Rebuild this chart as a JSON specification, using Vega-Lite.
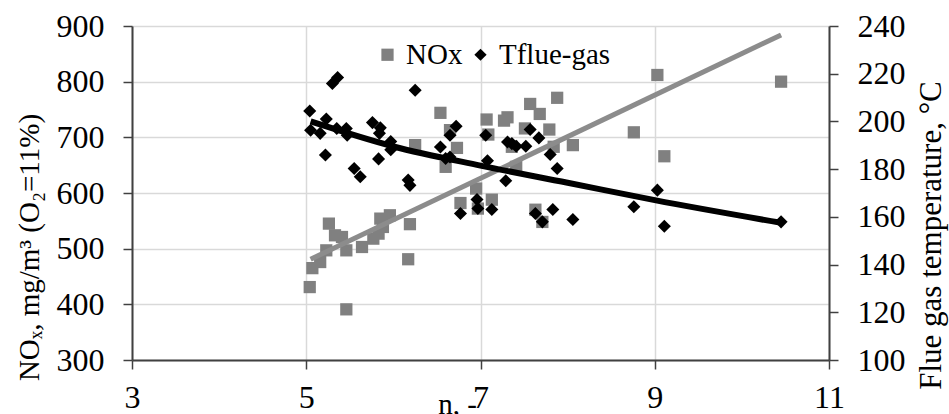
{
  "$schema": "https://vega.github.io/schema/vega-lite/v6.json",
  "width": 697,
  "height": 334,
  "autosize": {"type": "none"},
  "padding": {"left": 132, "top": 26, "right": 120, "bottom": 54},
  "background": "white",
  "config": {
    "font": "Liberation Serif",
    "view": {"stroke": null},
    "axis": {"labelFont": "Liberation Serif", "titleFont": "Liberation Serif", "labelFontSize": 32, "titleFontSize": 29, "titleFontWeight": "normal", "labelColor": "#000", "titleColor": "#000", "tickColor": "#404040", "domainColor": "#404040", "domainWidth": 2, "tickSize": 9, "tickWidth": 1.5, "gridColor": "#d9d9d9", "gridWidth": 1.5},
    "legend": {"labelFont": "Liberation Serif"}
  },
  "datasets": {
    "pts": [
      {"s": "NOx", "n": 5.04, "v": 431}, {"s": "NOx", "n": 5.07, "v": 465}, {"s": "NOx", "n": 5.16, "v": 476}, {"s": "NOx", "n": 5.26, "v": 545}, {"s": "NOx", "n": 5.23, "v": 497}, {"s": "NOx", "n": 5.33, "v": 524}, {"s": "NOx", "n": 5.41, "v": 521}, {"s": "NOx", "n": 5.46, "v": 497}, {"s": "NOx", "n": 5.46, "v": 391}, {"s": "NOx", "n": 5.64, "v": 503}, {"s": "NOx", "n": 5.77, "v": 518}, {"s": "NOx", "n": 5.83, "v": 527}, {"s": "NOx", "n": 5.85, "v": 554}, {"s": "NOx", "n": 5.96, "v": 560}, {"s": "NOx", "n": 5.88, "v": 539}, {"s": "NOx", "n": 6.19, "v": 544}, {"s": "NOx", "n": 6.17, "v": 481}, {"s": "NOx", "n": 6.25, "v": 686}, {"s": "NOx", "n": 6.54, "v": 744}, {"s": "NOx", "n": 6.6, "v": 647}, {"s": "NOx", "n": 6.65, "v": 713}, {"s": "NOx", "n": 6.73, "v": 681}, {"s": "NOx", "n": 6.77, "v": 582}, {"s": "NOx", "n": 6.95, "v": 608}, {"s": "NOx", "n": 6.97, "v": 572}, {"s": "NOx", "n": 7.13, "v": 588}, {"s": "NOx", "n": 7.07, "v": 732}, {"s": "NOx", "n": 7.09, "v": 705}, {"s": "NOx", "n": 7.27, "v": 730}, {"s": "NOx", "n": 7.31, "v": 736}, {"s": "NOx", "n": 7.36, "v": 683}, {"s": "NOx", "n": 7.41, "v": 647}, {"s": "NOx", "n": 7.51, "v": 716}, {"s": "NOx", "n": 7.57, "v": 760}, {"s": "NOx", "n": 7.68, "v": 742}, {"s": "NOx", "n": 7.79, "v": 714}, {"s": "NOx", "n": 7.84, "v": 683}, {"s": "NOx", "n": 7.88, "v": 771}, {"s": "NOx", "n": 8.06, "v": 686}, {"s": "NOx", "n": 7.63, "v": 570}, {"s": "NOx", "n": 7.71, "v": 548}, {"s": "NOx", "n": 8.76, "v": 709}, {"s": "NOx", "n": 9.03, "v": 812}, {"s": "NOx", "n": 9.11, "v": 666}, {"s": "NOx", "n": 10.45, "v": 800},
      {"s": "Tflue-gas", "n": 5.04, "v": 204.4}, {"s": "Tflue-gas", "n": 5.05, "v": 196.3}, {"s": "Tflue-gas", "n": 5.16, "v": 195}, {"s": "Tflue-gas", "n": 5.23, "v": 201}, {"s": "Tflue-gas", "n": 5.22, "v": 185.9}, {"s": "Tflue-gas", "n": 5.3, "v": 215.9}, {"s": "Tflue-gas", "n": 5.36, "v": 218.4}, {"s": "Tflue-gas", "n": 5.35, "v": 197}, {"s": "Tflue-gas", "n": 5.46, "v": 197}, {"s": "Tflue-gas", "n": 5.47, "v": 194.2}, {"s": "Tflue-gas", "n": 5.55, "v": 180.3}, {"s": "Tflue-gas", "n": 5.62, "v": 176.8}, {"s": "Tflue-gas", "n": 5.76, "v": 199.5}, {"s": "Tflue-gas", "n": 5.85, "v": 197.3}, {"s": "Tflue-gas", "n": 5.84, "v": 195}, {"s": "Tflue-gas", "n": 5.97, "v": 191.6}, {"s": "Tflue-gas", "n": 5.97, "v": 188.1}, {"s": "Tflue-gas", "n": 5.83, "v": 184.3}, {"s": "Tflue-gas", "n": 6.17, "v": 175.4}, {"s": "Tflue-gas", "n": 6.19, "v": 173.2}, {"s": "Tflue-gas", "n": 6.25, "v": 213.1}, {"s": "Tflue-gas", "n": 6.54, "v": 189.3}, {"s": "Tflue-gas", "n": 6.65, "v": 194.2}, {"s": "Tflue-gas", "n": 6.72, "v": 198}, {"s": "Tflue-gas", "n": 6.65, "v": 185.1}, {"s": "Tflue-gas", "n": 6.6, "v": 184.5}, {"s": "Tflue-gas", "n": 6.77, "v": 161.4}, {"s": "Tflue-gas", "n": 6.96, "v": 167.3}, {"s": "Tflue-gas", "n": 6.97, "v": 163.5}, {"s": "Tflue-gas", "n": 7.13, "v": 163.1}, {"s": "Tflue-gas", "n": 7.06, "v": 194.2}, {"s": "Tflue-gas", "n": 7.08, "v": 183.5}, {"s": "Tflue-gas", "n": 7.29, "v": 175.1}, {"s": "Tflue-gas", "n": 7.31, "v": 191.4}, {"s": "Tflue-gas", "n": 7.36, "v": 190.7}, {"s": "Tflue-gas", "n": 7.41, "v": 189.6}, {"s": "Tflue-gas", "n": 7.52, "v": 189.6}, {"s": "Tflue-gas", "n": 7.57, "v": 196.6}, {"s": "Tflue-gas", "n": 7.67, "v": 193.1}, {"s": "Tflue-gas", "n": 7.8, "v": 186.1}, {"s": "Tflue-gas", "n": 7.88, "v": 180.3}, {"s": "Tflue-gas", "n": 7.63, "v": 161.4}, {"s": "Tflue-gas", "n": 7.71, "v": 157.9}, {"s": "Tflue-gas", "n": 7.83, "v": 163.1}, {"s": "Tflue-gas", "n": 8.06, "v": 158.9}, {"s": "Tflue-gas", "n": 8.76, "v": 164.2}, {"s": "Tflue-gas", "n": 9.03, "v": 171.2}, {"s": "Tflue-gas", "n": 9.11, "v": 156.1}, {"s": "Tflue-gas", "n": 10.45, "v": 157.9}
    ],
    "noxTrend": [
      {"n": 5.05, "v": 481}, {"n": 10.45, "v": 884}
    ],
    "tempTrend": [
      {"n": 5.05, "v": 200}, {"n": 6, "v": 189.5}, {"n": 7, "v": 181.5}, {"n": 8, "v": 174.3}, {"n": 9, "v": 167}, {"n": 10.45, "v": 157.5}
    ]
  },
  "encoding": {
    "x": {"field": "n", "type": "quantitative", "scale": {"domain": [3, 11], "nice": false, "zero": false},
      "axis": {"values": [3, 5, 7, 9, 11], "title": "n, -", "labelFont": "Liberation Serif", "titleFont": "Liberation Serif", "titleX": 325, "titleY": 53, "titleBaseline": "alphabetic", "titleAnchor": null, "labelPadding": 13, "grid": true, "labelFlush": false}}
  },
  "layer": [
    {
      "layer": [
        {
          "data": {"name": "pts"},
          "transform": [{"filter": "datum.s === 'NOx'"}],
          "mark": {"type": "point", "filled": true, "opacity": 1, "size": 150},
          "encoding": {
            "y": {"field": "v", "type": "quantitative", "scale": {"domain": [300, 900], "nice": false, "zero": false},
              "axis": {"orient": "left", "values": [300, 400, 500, 600, 700, 800, 900], "labelFont": "Liberation Serif", "titleFont": "Liberation Serif", "title": "NOₓ, mg/m³ (O₂=11%)", "titleAngle": -90, "titleX": -94, "titleY": 221, "titleAlign": "center", "titleBaseline": "alphabetic", "labelPadding": 19, "grid": true}},
            "color": {"field": "s", "type": "nominal", "scale": {"domain": ["NOx", "Tflue-gas"], "range": ["#808080", "#000000"]},
              "legend": {"orient": "none", "legendX": 241, "legendY": 14, "direction": "horizontal", "title": null, "labelFontSize": 29, "labelFont": "Liberation Serif", "symbolSize": 150, "columnPadding": 3, "labelOffset": 4, "symbolStrokeWidth": 0}},
            "shape": {"field": "s", "type": "nominal", "scale": {"domain": ["NOx", "Tflue-gas"], "range": ["square", "diamond"]}}
          }
        },
        {
          "data": {"name": "noxTrend"},
          "mark": {"type": "line", "color": "#8c8c8c", "strokeWidth": 5},
          "encoding": {"y": {"field": "v", "type": "quantitative"}}
        }
      ]
    },
    {
      "layer": [
        {
          "data": {"name": "pts"},
          "transform": [{"filter": "datum.s === 'Tflue-gas'"}],
          "mark": {"type": "point", "filled": true, "opacity": 1, "size": 170},
          "encoding": {
            "y": {"field": "v", "type": "quantitative", "scale": {"domain": [100, 240], "nice": false, "zero": false},
              "axis": {"orient": "right", "values": [100, 120, 140, 160, 180, 200, 220, 240], "labelFont": "Liberation Serif", "titleFont": "Liberation Serif", "title": "Flue gas temperature, °C", "titleFontSize": 31, "titleAngle": -90, "titleX": 111, "titleY": 209, "titleAlign": "center", "titleBaseline": "alphabetic", "labelPadding": 19, "grid": false}},
            "color": {"field": "s", "type": "nominal"},
            "shape": {"field": "s", "type": "nominal"}
          }
        },
        {
          "data": {"name": "tempTrend"},
          "mark": {"type": "line", "color": "#000000", "strokeWidth": 6, "interpolate": "monotone"},
          "encoding": {"y": {"field": "v", "type": "quantitative"}}
        }
      ]
    }
  ],
  "resolve": {"scale": {"y": "independent"}}
}
